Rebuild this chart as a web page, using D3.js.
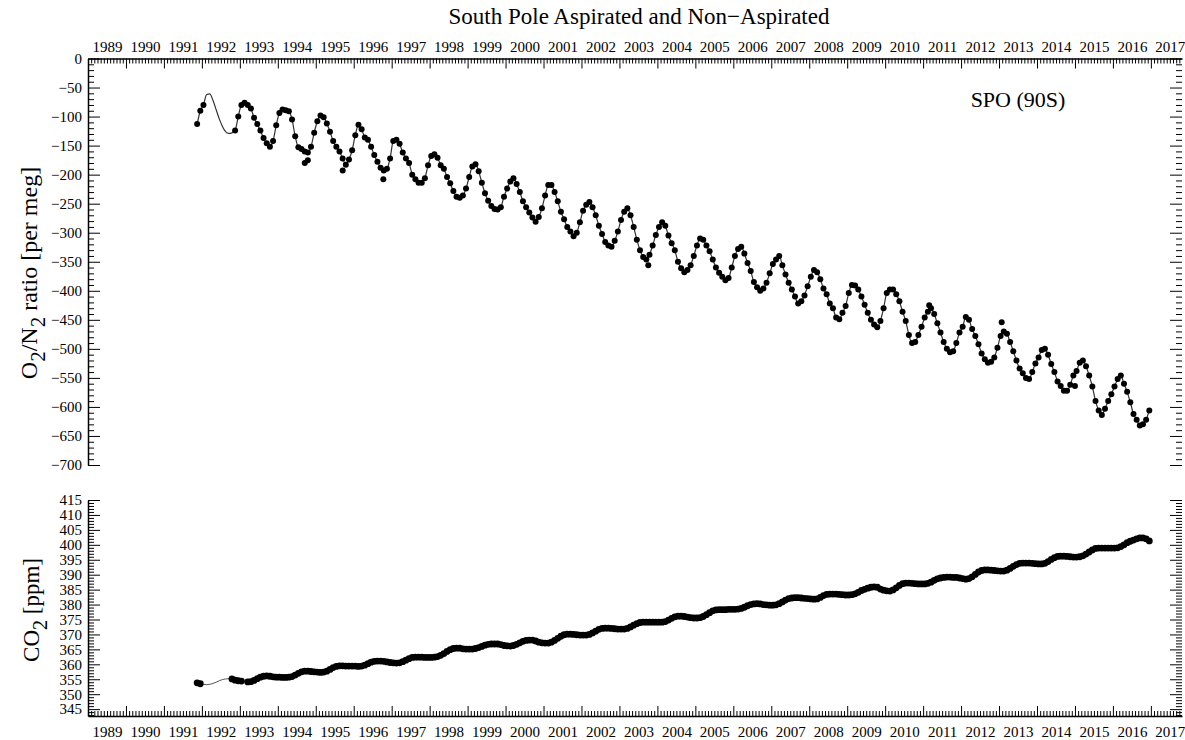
<!DOCTYPE html>
<html>
<head>
<meta charset="utf-8">
<title>South Pole Aspirated and Non-Aspirated</title>
<script src="https://cdn.jsdelivr.net/npm/d3@7"></script>
<style>
  body { margin: 0; background: #fff; }
  svg text { font-family: "Liberation Serif", "Times New Roman", serif; fill: #000; }
</style>
</head>
<body>
<div id="chart"></div>
<script>
// years covered by the monthly rows below (Jan..Dec each)
const years = d3.range(1991, 2017)

// O2/N2 [per meg], monthly flask means, null = no samples
const o2 = [
  [null, null, null, null, null, null, null, null, null, null, -113, -90],
  [-80, null, null, null, null, null, null, null, null, null, -124, -100],
  [-80, -76, -80, -86, -102, -113, -124, -137, -146, -152, -142, -115],
  [-94, -88, -89, -91, -105, -134, -153, -156, -160, -162, -152, -128],
  [-108, -98, -101, -112, -126, -142, -152, -160, -172, -183, -174, -158],
  [-132, -114, -122, -136, -140, -152, -166, -178, -188, -193, -190, -172],
  [-142, -140, -147, -162, -172, -180, -200, -208, -214, -214, -206, -184],
  [-168, -165, -171, -184, -190, -204, -215, -228, -238, -240, -236, -224],
  [-204, -186, -182, -194, -214, -232, -245, -254, -259, -260, -256, -238],
  [-224, -212, -206, -216, -230, -246, -256, -265, -274, -281, -273, -258],
  [-236, -218, -218, -230, -246, -264, -277, -290, -298, -306, -300, -282],
  [-262, -252, -247, -256, -270, -288, -302, -316, -322, -324, -314, -298],
  [-278, -264, -258, -270, -290, -312, -330, -342, -346, -338, -322, -304],
  [-290, -282, -288, -305, -318, -330, -350, -361, -368, -364, -356, -340],
  [-322, -310, -312, -322, -332, -346, -360, -369, -376, -382, -378, -360],
  [-340, -328, -324, -336, -352, -366, -385, -394, -400, -396, -386, -370],
  [-354, -346, -340, -356, -372, -386, -398, -410, -422, -418, -408, -392],
  [-376, -364, -368, -380, -396, -406, -422, -430, -446, -449, -438, -426],
  [-404, -390, -391, -398, -410, -424, -438, -450, -458, -463, -452, -430],
  [-404, -398, -398, -406, -418, -436, -452, -476, -490, -488, -476, -462],
  [-446, -436, -430, -440, -456, -472, -488, -500, -506, -504, -490, -472],
  [-462, -445, -450, -466, -478, -492, -508, -518, -524, -522, -515, -498],
  [-478, -470, -474, -488, -504, -520, -534, -542, -550, -552, -540, -525],
  [-515, -502, -500, -510, -526, -540, -556, -564, -572, -572, -562, -546],
  [-538, -524, -520, -530, -546, -565, -590, -606, -614, -603, -590, -578],
  [-565, -552, -546, -560, -574, -592, -612, -622, -632, -630, -622, -606]
]
// fitted curve across the 1992 sampling gap
const o2Fit1992 = [null, -62, -61, -72, -88, -104, -117, -126, -129, -128, null, null]
// single flasks lying off the curve
const o2OutlierDates = [1994.71, 1994.79, 1995.71, 1996.78, 2003.76, 2011.16, 2013.07, 2015.0]
const o2OutlierValues = [-180, -175, -193, -208, -356, -425, -454, -564]

// CO2 [ppm], monthly means
const co2 = [
  [null, null, null, null, null, null, null, null, null, null, 353.8, 353.5],
  [null, null, null, null, null, null, null, null, null, 355.1, 354.7, 354.5],
  [354.4, null, 354.1, 354.2, 354.6, 355.2, 355.7, 356.0, 356.1, 356.0, 355.8, 355.7],
  [355.7, 355.6, 355.6, 355.7, 355.9, 356.4, 357.0, 357.5, 357.7, 357.7, 357.6, 357.5],
  [357.4, 357.3, 357.4, 357.7, 358.3, 358.9, 359.3, 359.5, 359.5, 359.4, 359.4, 359.4],
  [359.4, 359.3, 359.4, 359.7, 360.2, 360.7, 361.0, 361.1, 361.1, 361.0, 360.8, 360.6],
  [360.5, 360.4, 360.5, 360.9, 361.4, 361.9, 362.3, 362.4, 362.4, 362.4, 362.3, 362.3],
  [362.3, 362.4, 362.6, 363.0, 363.6, 364.3, 364.9, 365.3, 365.4, 365.4, 365.2, 365.1],
  [365.1, 365.1, 365.3, 365.6, 366.0, 366.4, 366.7, 366.8, 366.8, 366.8, 366.6, 366.3],
  [366.2, 366.1, 366.3, 366.7, 367.2, 367.7, 368.0, 368.1, 368.1, 367.8, 367.4, 367.2],
  [367.1, 367.1, 367.4, 368.0, 368.7, 369.4, 369.9, 370.1, 370.1, 370.0, 369.9, 369.8],
  [369.8, 369.8, 370.0, 370.5, 371.1, 371.7, 372.0, 372.1, 372.1, 372.0, 371.9, 371.8],
  [371.8, 371.8, 372.0, 372.5, 373.1, 373.6, 374.0, 374.1, 374.1, 374.1, 374.1, 374.1],
  [374.1, 374.1, 374.3, 374.8, 375.4, 375.9, 376.1, 376.1, 376.0, 375.8, 375.6, 375.5],
  [375.5, 375.6, 376.0, 376.6, 377.3, 377.9, 378.2, 378.3, 378.3, 378.3, 378.4, 378.4],
  [378.4, 378.5, 378.7, 379.1, 379.6, 380.0, 380.2, 380.3, 380.2, 380.0, 379.9, 379.8],
  [379.8, 379.9, 380.3, 380.9, 381.5, 382.0, 382.2, 382.3, 382.3, 382.2, 382.1, 382.0],
  [381.9, 381.8, 381.9, 382.4, 383.0, 383.4, 383.5, 383.5, 383.5, 383.4, 383.3, 383.2],
  [383.2, 383.3, 383.6, 384.1, 384.7, 385.1, 385.5, 385.8, 385.9, 385.8, 385.2, 384.8],
  [384.6, 384.5, 384.9, 385.6, 386.4, 387.0, 387.2, 387.2, 387.1, 387.0, 386.9, 386.9],
  [386.9, 387.1, 387.5, 388.1, 388.6, 388.9, 389.1, 389.2, 389.2, 389.1, 389.1, 388.9],
  [388.7, 388.5, 388.7, 389.3, 390.1, 390.9, 391.4, 391.6, 391.6, 391.5, 391.4, 391.3],
  [391.2, 391.2, 391.5, 392.1, 392.8, 393.4, 393.8, 393.9, 393.9, 393.9, 393.8, 393.7],
  [393.6, 393.6, 393.8, 394.4, 395.1, 395.7, 396.1, 396.2, 396.2, 396.1, 396.0, 395.9],
  [395.9, 396.0, 396.3, 396.9, 397.6, 398.3, 398.8, 398.9, 398.9, 398.9, 398.9, 398.9],
  [398.9, 399.0, 399.4, 400.0, 400.7, 401.2, 401.6, 402.0, 402.3, 402.3, 402.0, 401.3]
]
const co2Fit1992 = [353.3, 353.2, 353.3, 353.6, 354.0, 354.5, 354.9, 355.1, 355.2, null, null, null]

// axis ticks and labels
const axisYears = d3.range(1989, 2018)
const o2Ticks = d3.range(-700, 1, 50)
const o2Minor = d3.range(-700, 1, 10)
const co2Ticks = d3.range(345, 416, 5)
const co2Minor = d3.range(343, 416, 1)

const width = 1185,
      height = 740,
      left = 88,
      right = 1182,
      o2Top = 58.5,
      o2Bottom = 465,
      co2Top = 500,
      co2Bottom = 716

const svg = d3.select('#chart')
  .append('svg')
    .attr('width', width)
    .attr('height', height)

const x = d3.scaleLinear().domain([1989, 2017.82]).range([left, right])
const yO2 = d3.scaleLinear().domain([-700, 0]).range([o2Bottom, o2Top])
const yCO2 = d3.scaleLinear().domain([342.7, 415]).range([co2Bottom, co2Top])

function toPoints(rows) {
  const out = []
  rows.forEach((row, i) => row.forEach((v, m) => {
    if (v !== null) out.push({ t: years[i] + (m + 0.5) / 12, v: v })
  }))
  return out
}
function fitPoints(row) {
  return row.map((v, m) => ({ t: 1992 + (m + 0.5) / 12, v: v })).filter(d => d.v !== null)
}

const monthTicks = d3.range(1, 12 * 29)
  .map(i => 1989 + i / 12)
  .filter(t => t <= 2017.82 && Math.abs(t - Math.round(t)) > 1e-6)

function styleAxis(g, keepDomain) {
  g.attr('font-family', null).attr('font-size', null)
  if (!keepDomain) g.select('.domain').remove()
  g.select('.domain').attr('stroke', '#000').attr('stroke-width', 1.5)
  g.selectAll('.tick line').attr('stroke', '#000').attr('stroke-width', 1)
  g.selectAll('.tick text').attr('font-size', 15)
}

// time axes (top of upper panel, bottom of lower panel)
function timeAxis(yPos, top) {
  const make = top ? d3.axisTop : d3.axisBottom
  const g = svg.append('g').attr('transform', `translate(0, ${yPos})`)
  g.append('g')
    .call(make(x).tickValues(monthTicks).tickSizeInner(-5).tickSizeOuter(0).tickFormat(''))
    .call(a => styleAxis(a, false))
  g.append('g')
    .call(make(x).tickValues(axisYears).tickSizeInner(-10).tickSizeOuter(0).tickFormat(''))
    .call(a => styleAxis(a, true))
  g.append('g')
    .call(make(x).tickValues(axisYears.map(d => d + 0.5).filter(d => d < 2017.82))
      .tickSize(0).tickPadding(top ? 6.5 : 10).tickFormat(d => Math.floor(d)))
    .call(a => styleAxis(a, false))
}
timeAxis(o2Top, true)
timeAxis(co2Bottom, false)

// value axes, labels on the left, bare ticks on the right
function valueAxis(scale, major, minor, majorLen, minorLen) {
  const gl = svg.append('g').attr('transform', `translate(${left}, 0)`)
  gl.append('g')
    .call(d3.axisLeft(scale).tickValues(minor).tickSizeInner(-minorLen).tickSizeOuter(0).tickFormat(''))
    .call(a => styleAxis(a, true))
  gl.append('g')
    .call(d3.axisLeft(scale).tickValues(major).tickSizeInner(-majorLen).tickSizeOuter(0).tickPadding(6))
    .call(a => styleAxis(a, false))
  const gr = svg.append('g').attr('transform', `translate(${right}, 0)`)
  gr.append('g')
    .call(d3.axisRight(scale).tickValues(minor).tickSizeInner(-minorLen).tickSizeOuter(0).tickFormat(''))
    .call(a => styleAxis(a, false))
  gr.append('g')
    .call(d3.axisRight(scale).tickValues(major).tickSizeInner(-majorLen).tickSizeOuter(0).tickFormat(''))
    .call(a => styleAxis(a, false))
}
valueAxis(yO2, o2Ticks, o2Minor.filter(d => d % 50 !== 0), 12, 6)
valueAxis(yCO2, co2Ticks, co2Minor.filter(d => d % 5 !== 0), 12, 6)

// O2/N2 panel
const o2Pts = toPoints(o2)
const o2Line = o2Pts.concat(fitPoints(o2Fit1992)).sort((a, b) => a.t - b.t)

svg.append('path')
  .datum(o2Line)
  .attr('fill', 'none')
  .attr('stroke', '#333')
  .attr('stroke-width', 1.2)
  .attr('d', d3.line().x(d => x(d.t)).y(d => yO2(d.v)).curve(d3.curveMonotoneX))

svg.append('g')
  .selectAll('circle')
  .data(o2Pts.concat(o2OutlierDates.map((t, i) => ({ t: t, v: o2OutlierValues[i] }))))
  .join('circle')
    .attr('cx', d => x(d.t))
    .attr('cy', d => yO2(d.v))
    .attr('r', 3)
    .attr('fill', '#000')

// CO2 panel
const co2Pts = toPoints(co2)
const co2Line = co2Pts.concat(fitPoints(co2Fit1992)).sort((a, b) => a.t - b.t)

svg.append('path')
  .datum(co2Line)
  .attr('fill', 'none')
  .attr('stroke', '#555')
  .attr('stroke-width', 1)
  .attr('d', d3.line().x(d => x(d.t)).y(d => yCO2(d.v)).curve(d3.curveMonotoneX))

svg.append('g')
  .selectAll('circle')
  .data(co2Pts)
  .join('circle')
    .attr('cx', d => x(d.t))
    .attr('cy', d => yCO2(d.v))
    .attr('r', 3.4)
    .attr('fill', '#000')

// texts
svg.append('text')
  .attr('x', 639).attr('y', 24)
  .attr('text-anchor', 'middle')
  .attr('font-size', 23)
  .text('South Pole Aspirated and Non\u2212Aspirated')

svg.append('text')
  .attr('x', 1018).attr('y', 107)
  .attr('text-anchor', 'middle')
  .attr('font-size', 22)
  .text('SPO (90S)')

const o2Label = svg.append('text')
  .attr('transform', 'translate(37, 273) rotate(-90)')
  .attr('text-anchor', 'middle')
  .attr('font-size', 24)
o2Label.append('tspan').text('O')
o2Label.append('tspan').attr('dy', 8).attr('font-size', 21).text('2')
o2Label.append('tspan').attr('dy', -8).text('/N')
o2Label.append('tspan').attr('dy', 8).attr('font-size', 21).text('2')
o2Label.append('tspan').attr('dy', -8).text(' ratio [per meg]')

const co2Label = svg.append('text')
  .attr('transform', 'translate(39, 610) rotate(-90)')
  .attr('text-anchor', 'middle')
  .attr('font-size', 23)
co2Label.append('tspan').text('CO')
co2Label.append('tspan').attr('dy', 8).attr('font-size', 20).text('2')
co2Label.append('tspan').attr('dy', -8).text(' [ppm]')
</script>
</body>
</html>
